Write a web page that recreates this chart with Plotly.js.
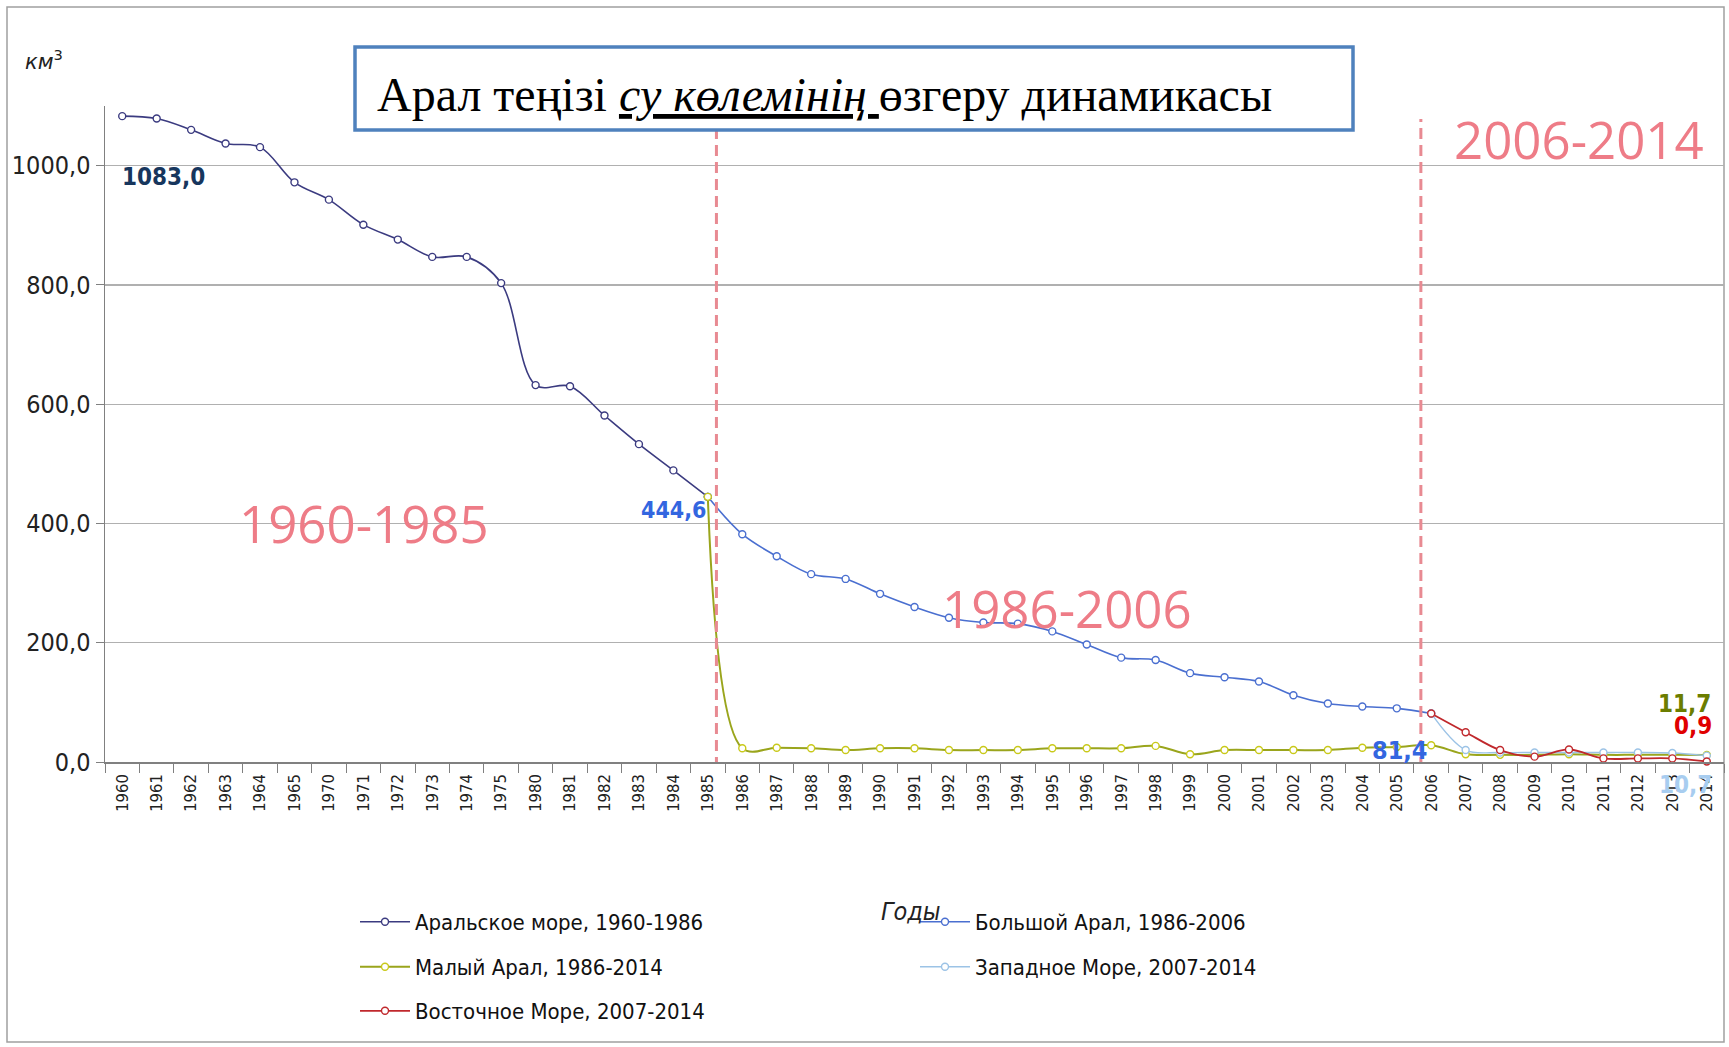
<!DOCTYPE html>
<html>
<head>
<meta charset="utf-8">
<script src="https://cdn.plot.ly/plotly-3.0.1.min.js"></script>
<style>html,body{margin:0;padding:0;background:#fff;}#chart{width:1729px;height:1047px;}</style>
</head>
<body>
<div id="chart"></div>
<script>
// ---- data ----
const years = ['1960','1961','1962','1963','1964','1965','1970','1971','1972','1973','1974','1975',
  '1980','1981','1982','1983','1984','1985','1986','1987','1988','1989','1990','1991','1992','1993',
  '1994','1995','1996','1997','1998','1999','2000','2001','2002','2003','2004','2005','2006','2007',
  '2008','2009','2010','2011','2012','2013','2014'];

const aralYears = years.slice(0, 18);          // 1960..1985
const aralSea = [1083.0, 1079, 1060, 1037, 1031, 972, 943, 901, 876, 847, 847, 803, 632, 630, 581, 533, 489, 444.6];

const bigYears = years.slice(17, 39);          // 1985..2006
const bigAral = [444.6, 382, 345, 315, 307, 282, 260, 242, 234, 232, 219, 197, 175, 171, 149, 142, 135, 112, 98, 93, 90, 81.4];

const smallYears = years.slice(17);            // 1985..2014
const smallAral = [444.6, 23, 24, 23, 20, 23, 23, 20, 20, 20, 23, 23, 23, 27, 13, 20, 20, 20, 20, 24, 25, 28, 13, 12, 12, 13, 12, 12, 12, 11.7];

const seaYears = years.slice(38);              // 2006..2014
const westSea = [81.4, 20, 16, 16, 16, 16, 16, 15, 10.7];
const eastSea = [81.4, 50, 20, 9, 21, 6, 6, 6, 0.9];

const seriesNames = ['Аральское море, 1960-1986', 'Большой Арал, 1986-2006', 'Малый Арал, 1986-2014',
  'Западное Море, 2007-2014', 'Восточное Море, 2007-2014'];
const yTicks = [0, 200, 400, 600, 800, 1000];

// ---- styles ----
const COND = "'DejaVu Sans Condensed', 'DejaVu Sans', sans-serif";
const SERIF = "'Liberation Serif', 'Times New Roman', serif";
const SOFT = "'Open Sans', 'DejaVu Sans Condensed', sans-serif";
const PINK = '#ee7c87';

function tr(x, y, name, color, mcolor, legend, width) {
  return {
    type: 'scatter', mode: 'lines+markers', x: x, y: y, name: name, legend: legend,
    line: {color: color, width: width || 1.6, shape: 'spline', smoothing: 1},
    marker: {symbol: 'circle', size: 7, color: '#ffffff', line: {color: mcolor, width: 1.4}},
    cliponaxis: false
  };
}

const traces = [
  tr(aralYears, aralSea, seriesNames[0], '#3b3b80', '#3b3b80', 'legend'),
  tr(bigYears, bigAral, seriesNames[1], '#4a6fd0', '#4a6fd0', 'legend4'),
  tr(smallYears, smallAral, seriesNames[2], '#9aa51c', '#c9c91a', 'legend2', 2),
  tr(seaYears, westSea, seriesNames[3], '#9cc3e6', '#9cc3e6', 'legend5', 1.4),
  tr(seaYears, eastSea, seriesNames[4], '#c0282c', '#c0282c', 'legend3', 1.8)
];

// pixel -> paper helpers (plot area: x 105..1724, y 106..762)
const PX = p => (p - 105) / 1619;
const PY = p => (762 - p) / 656;

function leg(xpx, ypx) {
  return {x: PX(xpx), y: PY(ypx), xanchor: 'left', yanchor: 'middle', bgcolor: 'rgba(0,0,0,0)',
    font: {family: COND, size: 22, color: '#111'}, itemwidth: 50, borderwidth: 0};
}

function ann(text, xpx, ypx, size, color, bold, family, xanchor) {
  return {text: bold ? '<b>' + text + '</b>' : text, x: PX(xpx), y: PY(ypx), xref: 'paper', yref: 'paper',
    showarrow: false, xanchor: xanchor || 'center', yanchor: 'middle',
    font: {size: size, color: color, family: family || COND}};
}

const layout = {
  width: 1729, height: 1047,
  margin: {l: 105, r: 5, t: 106, b: 285},
  paper_bgcolor: '#ffffff', plot_bgcolor: '#ffffff',
  separators: ', ',
  showlegend: true,
  xaxis: {
    type: 'category', categoryorder: 'array', categoryarray: years,
    range: [-0.5, years.length - 0.5],
    tickangle: -90, tickson: 'boundaries', ticks: 'outside', ticklen: 9, tickcolor: '#808080',
    ticklabelstandoff: 4,
    showline: true, linecolor: '#808080', linewidth: 1.5, showgrid: false, zeroline: false,
    tickfont: {family: COND, size: 16.5, color: '#222'}
  },
  yaxis: {
    range: [0, 1100], tickvals: yTicks, tickformat: '.1f',
    ticks: 'outside', ticklen: 8, tickcolor: '#808080',
    showline: true, linecolor: '#808080', linewidth: 1.5,
    showgrid: true, gridcolor: '#b0b0b0', gridwidth: 1.2, zeroline: false,
    tickfont: {family: COND, size: 25, color: '#222'}
  },
  legend: leg(355, 922),
  legend2: leg(355, 967),
  legend3: leg(355, 1011),
  legend4: leg(915, 922),
  legend5: leg(915, 967),
  shapes: [
    {type: 'rect', xref: 'paper', yref: 'paper', x0: PX(7), x1: 1, y0: PY(1042), y1: PY(7),
      line: {color: '#a0a0a0', width: 1.5}, fillcolor: 'rgba(0,0,0,0)', layer: 'below'},
    {type: 'line', xref: 'x', yref: 'y', x0: 17.25, x1: 17.25, y0: -10, y1: 1063,
      line: {color: '#e88a92', width: 3, dash: '11px,6px'}},
    {type: 'line', xref: 'x', yref: 'y', x0: 37.7, x1: 37.7, y0: -10, y1: 1078,
      line: {color: '#e88a92', width: 3, dash: '11px,6px'}},
    {type: 'rect', xref: 'paper', yref: 'paper', x0: PX(355), x1: PX(1353), y0: PY(130), y1: PY(47),
      line: {color: '#4f81bd', width: 3.5}, fillcolor: '#ffffff'}
  ],
  annotations: [
    ann('Арал теңізі <i><u>су көлемінің </u></i>өзгеру динамикасы', 375, 95, 48, '#000', false, SERIF, 'left'),
    ann('<i>км</i><sup>3</sup>', 44, 60, 21, '#222', false, "'DejaVu Sans', sans-serif"),
    ann('<i>Годы</i>', 911, 911, 25, '#222', false, COND),
    ann('1960-1985', 364, 523, 51, PINK, false, SOFT),
    ann('1986-2006', 1067, 608, 51, PINK, false, SOFT),
    ann('2006-2014', 1579, 139, 51, PINK, false, SOFT),
    ann('1083,0', 163, 177, 24, '#17365d', true, COND),
    ann('444,6', 708, 510, 23, '#3366e0', true, COND, 'right'),
    ann('81,4', 1400, 750, 25, '#3366e0', true, COND),
    ann('11,7', 1684, 704, 24, '#6b7d00', true, COND),
    ann('0,9', 1693, 726, 24, '#e00000', true, COND),
    ann('10,7', 1685, 785, 24, '#a8cdf0', true, COND)
  ]
};

Plotly.newPlot('chart', traces, layout, {displayModeBar: false, staticPlot: true});
</script>
</body>
</html>
